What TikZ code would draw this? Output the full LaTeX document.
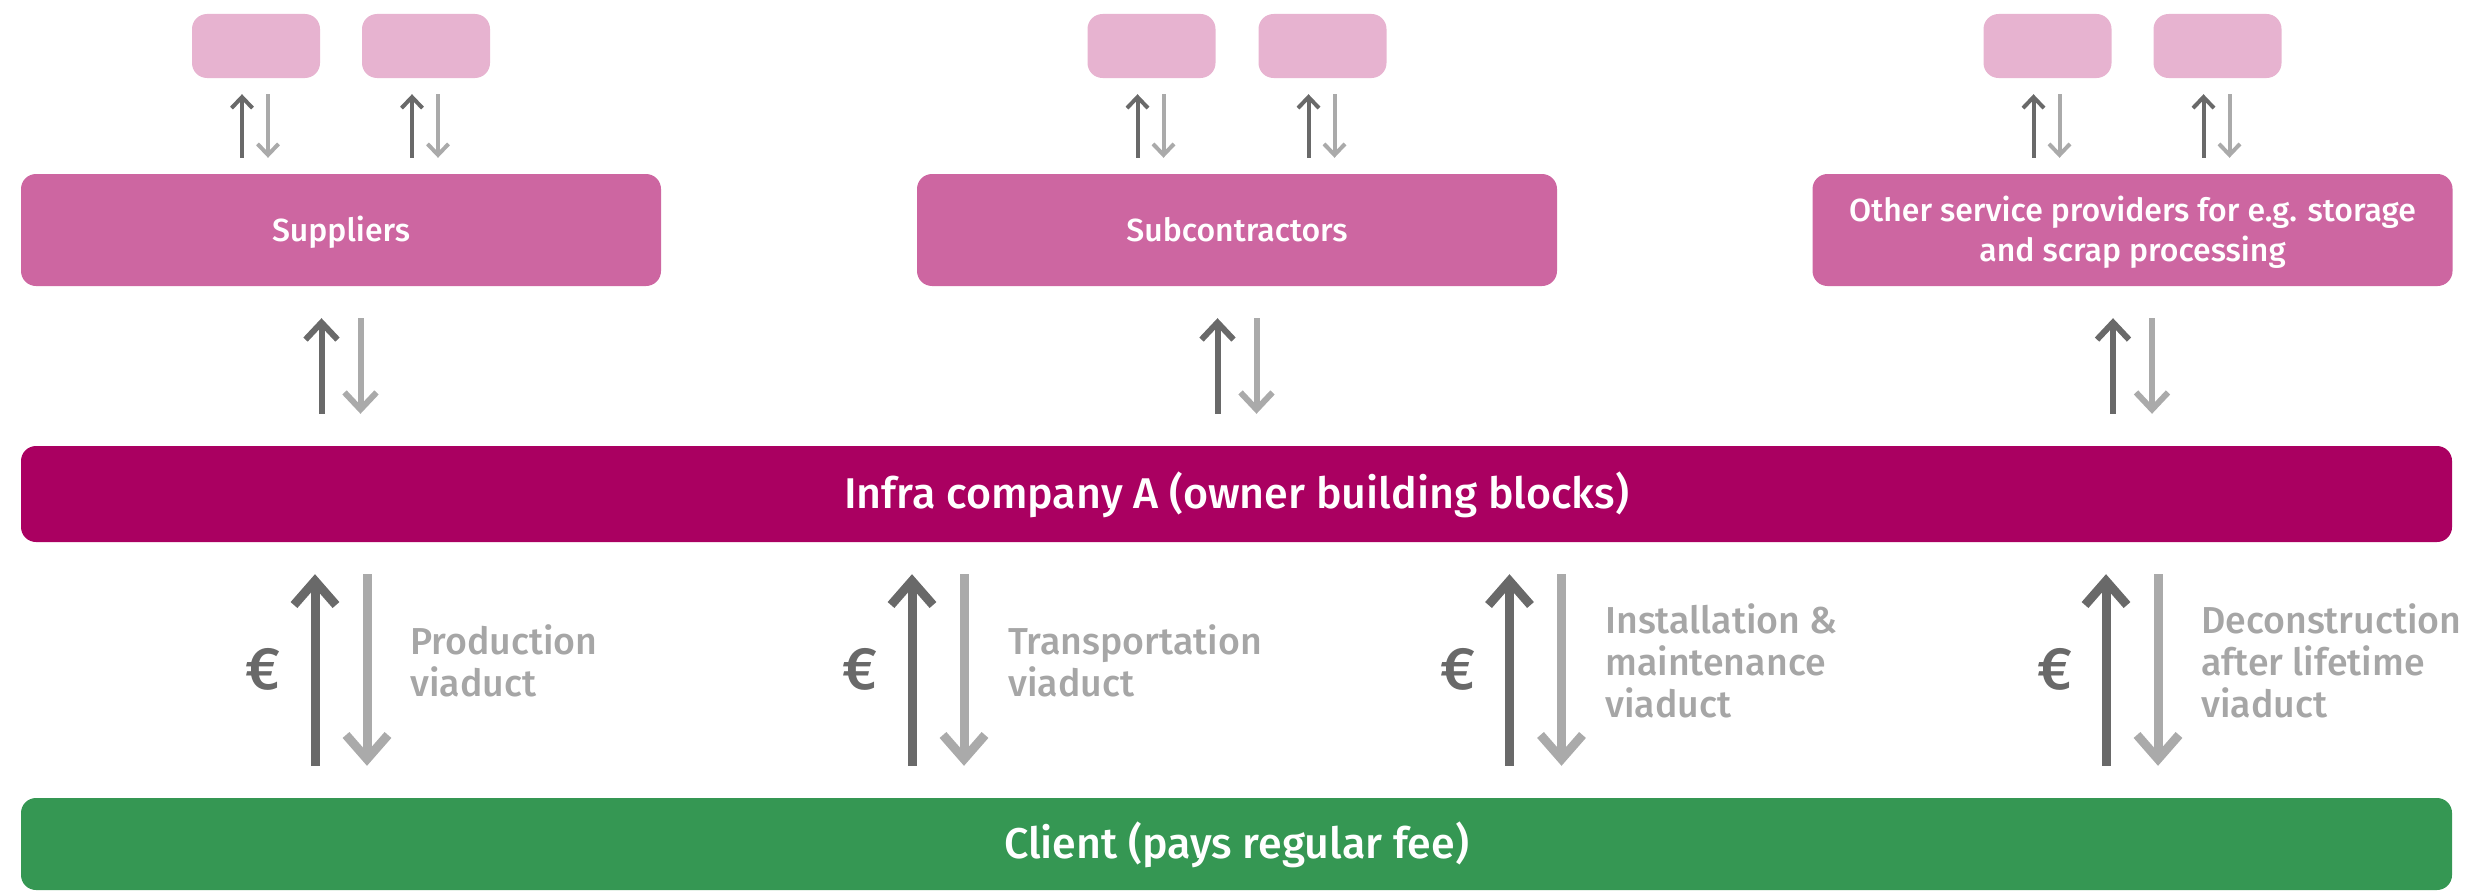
\documentclass[tikz,border=0pt]{standalone}
\usepackage{fontspec}
\setmainfont{Fira Sans Medium}
\usetikzlibrary{arrows.meta,calc}
\definecolor{pinkL}{HTML}{E7B3D0}
\definecolor{pinkM}{HTML}{CD66A1}
\definecolor{infrac}{HTML}{AA0061}
\definecolor{clientg}{HTML}{359753}
\definecolor{darkar}{HTML}{696969}
\definecolor{lightar}{HTML}{AAAAAA}
\definecolor{labelgray}{HTML}{A6A6A6}
\begin{document}
\begin{tikzpicture}[x=1pt,y=-1pt,
  smallbox/.style={fill=pinkL, rounded corners=15pt, minimum width=128pt, minimum height=64pt, inner sep=0pt},
  midbox/.style={fill=pinkM, rounded corners=15pt, minimum width=640pt, minimum height=112pt, inner sep=0pt,
     text=white, align=center, font=\fontsize{32}{40}\selectfont, text height=22pt, text depth=0pt},
  barbox/.style={rounded corners=15pt, minimum width=2431pt, inner sep=0pt,
     text=white, font=\fontsize{43}{50}\selectfont, text height=29.6pt, text depth=0pt},
  smallup/.style={draw=darkar, line width=4pt, -{Straight Barb[length=11pt,width=21pt,sharp]}},
  smalldown/.style={draw=lightar, line width=4pt, -{Straight Barb[length=11pt,width=21pt,sharp]}},
  midup/.style={draw=darkar, line width=6pt, -{Straight Barb[length=17pt,width=32pt,sharp]}},
  middown/.style={draw=lightar, line width=6pt, -{Straight Barb[length=17pt,width=32pt,sharp]}},
  bigup/.style={draw=darkar, line width=9pt, -{Straight Barb[length=24pt,width=42pt,sharp]}},
  bigdown/.style={draw=lightar, line width=9pt, -{Straight Barb[length=24pt,width=42pt,sharp]}},
  vlabel/.style={anchor=base west, inner sep=0pt, align=left, text=labelgray, font=\fontsize{37.5}{42}\selectfont},
  eurolabel/.style={inner sep=0pt, text=darkar, font=\fontsize{60}{60}\selectfont, text height=41.3pt, text depth=0pt}
]
\useasboundingbox (0,0) rectangle (2473,891);

% top small boxes
\node[smallbox] (s1) at (256,46) {};
\node[smallbox] (s2) at (426,46) {};
\node[smallbox] (s3) at (1151.5,46) {};
\node[smallbox] (s4) at (1322.5,46) {};
\node[smallbox] (s5) at (2047.5,46) {};
\node[smallbox] (s6) at (2217.5,46) {};

% middle boxes
\node[midbox] (sup) at (341,230) {Suppliers};
\node[midbox] (sub) at (1237,230) {Subcontractors};
\node[midbox, text height=62pt] (oth) at (2132.5,230) {Other service providers for e.g. storage\\and scrap processing};

% bars
\node[barbox, fill=infrac, minimum height=96pt] (infra) at (1236.5,494) {Infra company A (owner building blocks)};
\node[barbox, fill=clientg, minimum height=92pt] (client) at (1236.5,844) {Client (pays regular fee)};

% small arrows
\foreach \s/\p in {s1/sup,s2/sup,s3/sub,s4/sub,s5/oth,s6/oth}{
  \draw[smallup] ($(\s.south |- \p.north)+(-14,-16)$) -- ($(\s.south)+(-14,16)$);
  \draw[smalldown] ($(\s.south)+(12,16)$) -- ($(\s.south |- \p.north)+(12,-16)$);
}

% middle arrows
\foreach \b in {sup,sub,oth}{
  \draw[midup] ($(\b.south |- infra.north)+(-19.5,-32)$) -- ($(\b.south)+(-19.5,32)$);
  \draw[middown] ($(\b.south)+(19.5,32)$) -- ($(\b.south |- infra.north)+(19.5,-32)$);
}

% lower columns
\coordinate (c1) at (341,0);
\coordinate (c2) at (938,0);
\coordinate (c3) at (1535.5,0);
\coordinate (c4) at (2132,0);
\foreach \c in {c1,c2,c3,c4}{
  \draw[bigup] ($(\c |- client.north)+(-26,-32)$) -- ($(\c |- infra.south)+(-26,32)$);
  \draw[bigdown] ($(\c |- infra.south)+(26,32)$) -- ($(\c |- client.north)+(26,-32)$);
}

\node[eurolabel] (e1) at (263.5,668.5) {€};
\node[eurolabel] (e2) at (860.5,668.5) {€};
\node[eurolabel] (e3) at (1458,668.5) {€};
\node[eurolabel] (e4) at (2054.5,668.5) {€};

\node[vlabel] (t1) at (410,696) {Production\\viaduct};
\node[vlabel] (t2) at (1008,696) {Transportation\\viaduct};
\node[vlabel] (t3) at (1605,717) {Installation \&\\maintenance\\viaduct};
\node[vlabel] (t4) at (2201,717) {Deconstruction\\after lifetime\\viaduct};
\end{tikzpicture}
\end{document}
